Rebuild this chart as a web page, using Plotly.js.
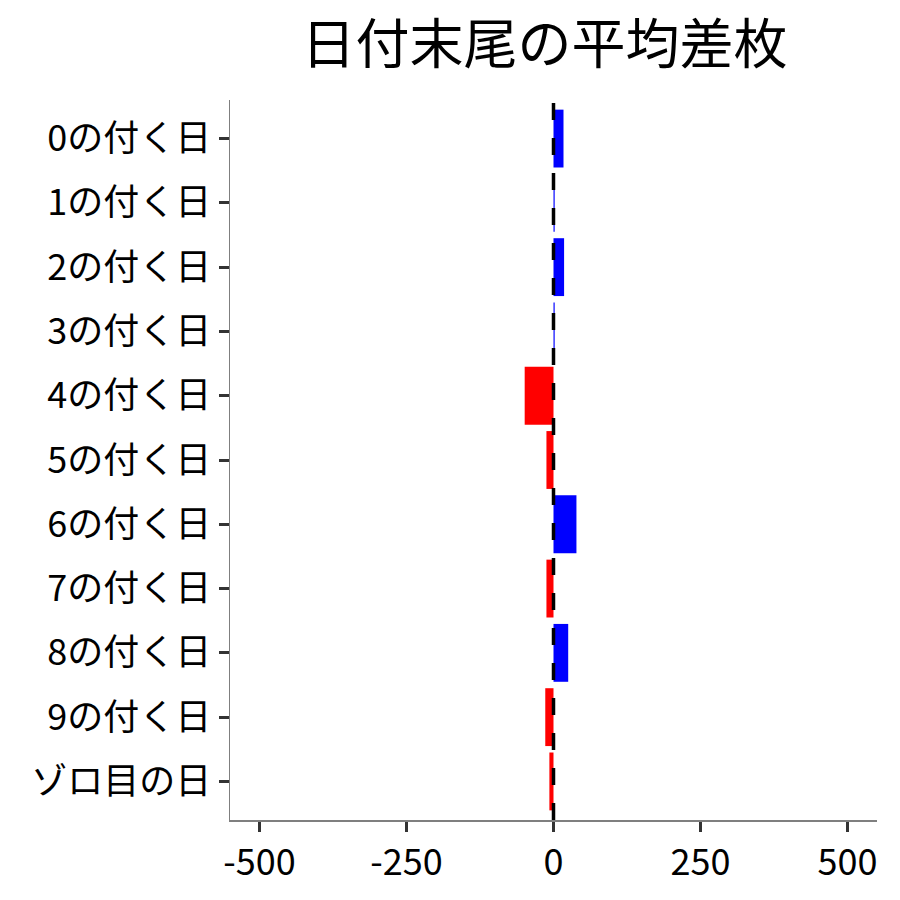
<!DOCTYPE html>
<html>
<head>
<meta charset="utf-8">
<script src="https://cdn.plot.ly/plotly-3.0.1.min.js"></script>
<style>
  body { margin: 0; background: #fff; }
  #chart { width: 900px; height: 900px; }
</style>
</head>
<body>
<div id="chart"></div>
<script>
// 日付末尾ごとの平均差枚
const days = ["0の付く日", "1の付く日", "2の付く日", "3の付く日", "4の付く日",
              "5の付く日", "6の付く日", "7の付く日", "8の付く日", "9の付く日", "ゾロ目の日"];
const avgDiff = [17, 2, 18, 2, -49, -12, 39, -12, 25, -14, -7];
const xTicks = [-500, -250, 0, 250, 500];
const refLine = 0;

const font = "Noto Sans CJK JP, Noto Sans, sans-serif";

let barColors = avgDiff.map(v => v >= 0 ? "#0000FF" : "#FF0000");

let trace = {
  type: "bar",
  orientation: "h",
  x: avgDiff,
  y: days,
  marker: { color: barColors, line: { width: 0 } },
  hoverinfo: "x+y"
};

let layout = {
  width: 900,
  height: 900,
  margin: { l: 230, r: 23, t: 100, b: 80 },
  paper_bgcolor: "#fff",
  plot_bgcolor: "#fff",
  showlegend: false,
  bargap: 0.1,
  font: { family: font, color: "#000" },
  title: {
    text: "日付末尾の平均差枚",
    font: { family: font, size: 54, color: "#000" },
    x: 0.486,
    xref: "paper",
    y: 0.95,
    yanchor: "middle"
  },
  xaxis: {
    range: [-550, 550],
    tickvals: xTicks,
    ticktext: xTicks.map(String),
    showgrid: false,
    zeroline: false,
    showline: true,
    linecolor: "#7f7f7f",
    linewidth: 1.5,
    ticks: "outside",
    ticklen: 10,
    tickwidth: 3,
    tickcolor: "#333",
    tickfont: { family: font, size: 36, color: "#000" }
  },
  yaxis: {
    type: "category",
    categoryorder: "array",
    categoryarray: days,
    range: [days.length - 0.4, -0.6],
    showgrid: false,
    zeroline: false,
    showline: true,
    linecolor: "#7f7f7f",
    linewidth: 1.5,
    ticks: "outside",
    ticklen: 10,
    tickwidth: 3,
    tickcolor: "#333",
    ticklabelstandoff: 0,
    tickfont: { family: font, size: 36, color: "#000" }
  },
  shapes: [{
    type: "line",
    xref: "x",
    yref: "paper",
    x0: refLine, x1: refLine,
    y0: 0, y1: 1,
    layer: "above",
    line: { color: "#000", width: 3.5, dash: "17px,18px" }
  }]
};

Plotly.newPlot("chart", [trace], layout, { displayModeBar: false, staticPlot: true });
</script>
</body>
</html>
